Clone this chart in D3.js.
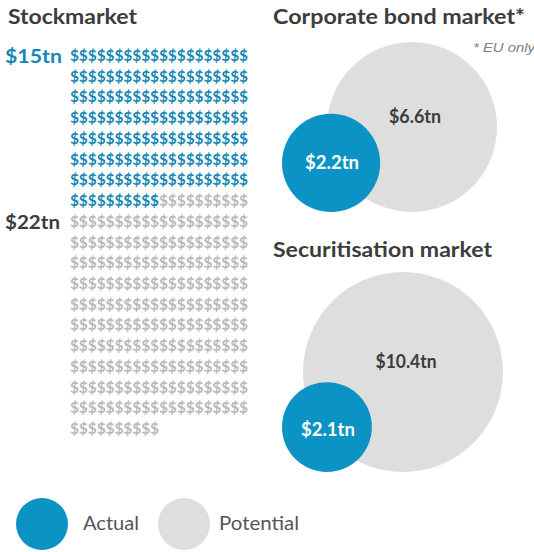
<!DOCTYPE html>
<html>
<head>
<meta charset="utf-8">
<script src="https://cdn.jsdelivr.net/npm/d3@7"></script>
<style>
  html, body { margin: 0; padding: 0; background: #ffffff; }
  svg { display: block; }
</style>
</head>
<body>
<div id="chart"></div>
<script>
// ---------------- data ----------------
const stockCategories = ["Actual", "Potential"];
const stockValues = [15, 22];           // $tn
const stockLabels = ["$15tn", "$22tn"];
const dollarUnit = 0.1;                 // $tn per "$" sign
const signsPerRow = 20;

const bubbleTitles = ["Corporate bond market*", "Securitisation market"];
const actualValues = [2.2, 2.1];        // $tn
const potentialValues = [6.6, 10.4];    // $tn
const actualLabels = ["$2.2tn", "$2.1tn"];
const potentialLabels = ["$6.6tn", "$10.4tn"];

const legendLabels = ["Actual", "Potential"];

// ---------------- style ----------------
const W = 534, H = 552;
const BLUE = "#0a93c4", BLUE_TXT = "#1788b5", GREY = "#dedede", GREY_SIGN = "#b9b9b9";
const DARK = "#3c3c3c";
const FONT = "Lato, 'Open Sans', sans-serif";

const svg = d3.select("#chart").append("svg").attr("width", W).attr("height", H);

// ---------------- Stockmarket ----------------
svg.append("text").attr("x", 8).attr("y", 24)
  .attr("font-family", FONT).attr("font-weight", 700).attr("font-size", 20)
  .attr("fill", DARK).attr("textLength", 129).attr("lengthAdjust", "spacingAndGlyphs")
  .text("Stockmarket");

const counts = stockValues.map(v => Math.round(v / dollarUnit));
const signs = [];
counts.forEach((c, k) => { for (let j = 0; j < c; j++) signs.push({ cat: stockCategories[k] }); });
signs.forEach((d, i) => { d.row = Math.floor(i / signsPerRow); d.col = i % signsPerRow; });
const nRows = Math.ceil(signs.length / signsPerRow);

const xCol = d3.scaleBand().domain(d3.range(signsPerRow)).range([70, 248]).padding(0);
const yRow = d3.scaleLinear().domain([0, nRows - 1]).range([61, 434]);
const colorCat = d3.scaleOrdinal().domain(stockCategories).range([BLUE_TXT, GREY_SIGN]);

svg.append("g").selectAll("text").data(signs).join("text")
  .attr("x", d => xCol(d.col) + xCol.bandwidth() / 2)
  .attr("y", d => yRow(d.row))
  .attr("text-anchor", "middle")
  .attr("font-family", FONT).attr("font-weight", 700).attr("font-size", 15.5)
  .attr("fill", d => colorCat(d.cat))
  .text("$");

// value labels next to the row where each category starts
const startRows = [0, Math.ceil(counts[0] / signsPerRow)];
const stockLabelW = [57, 55];
svg.append("g").selectAll("text").data(stockLabels).join("text")
  .attr("x", 5).attr("y", (d, i) => yRow(startRows[i]) + 2)
  .attr("font-family", FONT).attr("font-weight", 700).attr("font-size", 19)
  .attr("fill", (d, i) => i === 0 ? BLUE_TXT : DARK)
  .attr("textLength", (d, i) => stockLabelW[i]).attr("lengthAdjust", "spacingAndGlyphs")
  .text(d => d);

// ---------------- Bubble panels ----------------
const panels = [
  { title: bubbleTitles[0], titleY: 24, titleW: 252, cx: 412, cy: 127, rMax: 85, pw: 52, aw: 54 },
  { title: bubbleTitles[1], titleY: 257, titleW: 219, cx: 403, cy: 372, rMax: 100, pw: 61, aw: 54 }
];

panels.forEach((p, i) => {
  const r = d3.scaleSqrt().domain([0, potentialValues[i]]).range([0, p.rMax]);
  const g = svg.append("g");
  g.append("text").attr("x", 273).attr("y", p.titleY)
    .attr("font-family", FONT).attr("font-weight", 700).attr("font-size", 20)
    .attr("fill", DARK).attr("textLength", p.titleW).attr("lengthAdjust", "spacingAndGlyphs")
    .text(p.title);

  const rp = r(potentialValues[i]);
  const ra = r(actualValues[i]);
  const bottom = p.cy + rp;
  g.append("circle").attr("cx", p.cx).attr("cy", p.cy).attr("r", rp).attr("fill", GREY);
  const acx = 282 + ra, acy = bottom - ra;
  g.append("circle").attr("cx", acx).attr("cy", acy).attr("r", ra).attr("fill", BLUE);

  g.append("text").attr("x", p.cx + 3).attr("y", p.cy - 4)
    .attr("text-anchor", "middle")
    .attr("font-family", FONT).attr("font-weight", 700).attr("font-size", 18)
    .attr("textLength", p.pw).attr("lengthAdjust", "spacingAndGlyphs")
    .attr("fill", DARK).text(potentialLabels[i]);
  g.append("text").attr("x", acx + 1).attr("y", acy + 6 + (i === 1 ? 3 : 0))
    .attr("text-anchor", "middle")
    .attr("font-family", FONT).attr("font-weight", 700).attr("font-size", 18)
    .attr("textLength", p.aw).attr("lengthAdjust", "spacingAndGlyphs")
    .attr("fill", "#ffffff").text(actualLabels[i]);
});

svg.append("text").attr("x", 473).attr("y", 52)
  .attr("font-family", "'Liberation Sans', Arial, sans-serif").attr("font-style", "italic")
  .attr("font-size", 13).attr("fill", "#808080")
  .attr("textLength", 62).attr("lengthAdjust", "spacingAndGlyphs")
  .text("* EU only");

// ---------------- Legend ----------------
const legendX = [42, 184];
const legendTextX = [83, 219];
const legendTextW = [56, 80];
const legendColor = d3.scaleOrdinal().domain(legendLabels).range([BLUE, GREY]);
const lg = svg.append("g").selectAll("g").data(legendLabels).join("g");
lg.append("circle").attr("cx", (d, i) => legendX[i]).attr("cy", 524).attr("r", 26)
  .attr("fill", d => legendColor(d));
lg.append("text").attr("x", (d, i) => legendTextX[i]).attr("y", 530)
  .attr("font-family", FONT).attr("font-size", 19).attr("fill", "#555555")
  .attr("textLength", (d, i) => legendTextW[i]).attr("lengthAdjust", "spacingAndGlyphs")
  .text(d => d);
</script>
</body>
</html>
